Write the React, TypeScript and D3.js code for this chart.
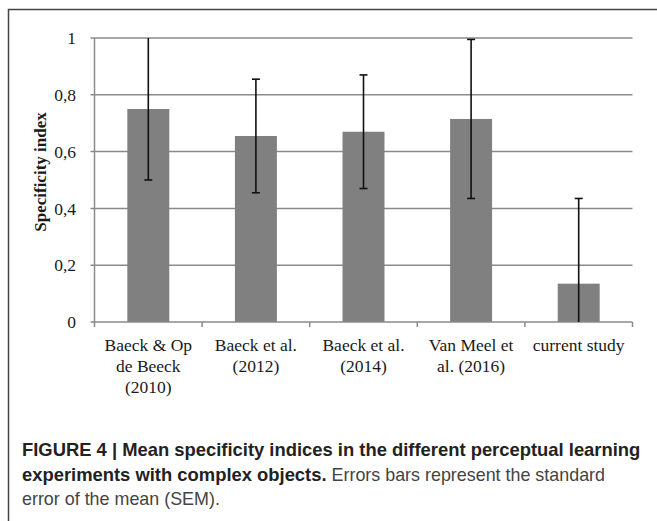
import React from "react";
import * as d3 from "d3";

const WIDTH = 657;
const HEIGHT = 521;

// chart values
const studies = [
  "Baeck & Op de Beeck (2010)",
  "Baeck et al. (2012)",
  "Baeck et al. (2014)",
  "Van Meel et al. (2016)",
  "current study",
];
const studyLines = [
  ["Baeck & Op", "de Beeck", "(2010)"],
  ["Baeck et al.", "(2012)"],
  ["Baeck et al.", "(2014)"],
  ["Van Meel et", "al. (2016)"],
  ["current study"],
];
const meanIndex = [0.75, 0.655, 0.67, 0.715, 0.135];
const semIndex = [0.25, 0.2, 0.2, 0.28, 0.3];
const yTicks = [0, 0.2, 0.4, 0.6, 0.8, 1];
const yTickLabels = ["0", "0,2", "0,4", "0,6", "0,8", "1"];

const M = { left: 94.5, right: 632.5, top: 38, bottom: 322 };
const SERIF = "'Liberation Serif', 'DejaVu Serif', serif";
const SANS = "'Liberation Sans', Arial, sans-serif";

export default function App() {
  const x = d3
    .scaleBand<string>()
    .domain(studies)
    .range([M.left, M.right])
    .paddingInner(0.61)
    .paddingOuter(0.305);
  const y = d3.scaleLinear().domain([0, 1]).range([M.bottom, M.top]);
  const step = x.step();
  const bw = x.bandwidth();
  const boundaries = d3.range(studies.length + 1).map((i) => M.left + i * step);

  return (
    <svg
      width={WIDTH}
      height={HEIGHT}
      style={{ position: "absolute", left: 0, top: 0, background: "#fff" }}
    >
      {/* frame */}
      <path d={`M8.5,${HEIGHT} V9.5 H${WIDTH}`} fill="none" stroke="#444" strokeWidth={1.5} />

      {/* grid lines */}
      {yTicks.slice(1).map((t) => (
        <line key={t} x1={M.left - 4} x2={M.right} y1={y(t)} y2={y(t)} stroke="#8a8a8a" strokeWidth={1.5} />
      ))}
      {/* y axis */}
      <line x1={M.left} x2={M.left} y1={M.top} y2={M.bottom} stroke="#8a8a8a" strokeWidth={1.5} />
      <line x1={M.left - 4} x2={M.left} y1={M.bottom} y2={M.bottom} stroke="#8a8a8a" strokeWidth={1.5} />
      {yTicks.map((t, i) => (
        <text
          key={t}
          x={76}
          y={y(t)}
          dy="0.35em"
          textAnchor="end"
          fontFamily={SERIF}
          fontSize={17.5}
          fill="#1a1a1a"
        >
          {yTickLabels[i]}
        </text>
      ))}
      <text
        transform={`translate(46,172) rotate(-90)`}
        textAnchor="middle"
        fontFamily={SERIF}
        fontWeight="bold"
        fontSize={17}
        fill="#1a1a1a"
      >
        Specificity index
      </text>

      {/* bars */}
      {studies.map((s, i) => (
        <rect key={s} x={x(s)} y={y(meanIndex[i])} width={bw} height={M.bottom - y(meanIndex[i])} fill="#808080" />
      ))}

      {/* x axis */}
      <line x1={M.left} x2={M.right} y1={M.bottom} y2={M.bottom} stroke="#8a8a8a" strokeWidth={1.5} />
      {boundaries.map((b) => (
        <line key={b} x1={b} x2={b} y1={M.bottom} y2={M.bottom + 5} stroke="#8a8a8a" strokeWidth={1.5} />
      ))}

      {/* error bars */}
      {studies.map((s, i) => {
        const cx = (x(s) as number) + bw / 2;
        const lo = Math.max(0, meanIndex[i] - semIndex[i]);
        const hi = Math.min(1, meanIndex[i] + semIndex[i]);
        return (
          <g key={s} stroke="#111" strokeWidth={1.6}>
            <line x1={cx} x2={cx} y1={y(lo)} y2={y(hi)} />
            {lo > 0 && <line x1={cx - 4} x2={cx + 4} y1={y(lo)} y2={y(lo)} />}
            {hi < 1 && <line x1={cx - 4} x2={cx + 4} y1={y(hi)} y2={y(hi)} />}
          </g>
        );
      })}

      {/* category labels */}
      {studies.map((s, i) => (
        <text key={s} textAnchor="middle" fontFamily={SERIF} fontSize={17.5} fill="#1a1a1a">
          {studyLines[i].map((ln, j) => (
            <tspan key={j} x={(x(s) as number) + bw / 2} y={351 + j * 21}>
              {ln}
            </tspan>
          ))}
        </text>
      ))}

      {/* caption */}
      <g fontFamily={SANS}>
        <text x={22} y={456} fontWeight="bold" fontSize={18.4} fill="#222">
          FIGURE 4 | Mean specificity indices in the different perceptual learning
        </text>
        <text x={22} y={481} fontSize={17.9} fill="#444">
          <tspan fontWeight="bold" fontSize={18.4} fill="#222">experiments with complex objects.</tspan> Errors bars represent the standard
        </text>
        <text x={22} y={505} fontSize={17.9} fill="#444">
          error of the mean (SEM).
        </text>
      </g>
    </svg>
  );
}
